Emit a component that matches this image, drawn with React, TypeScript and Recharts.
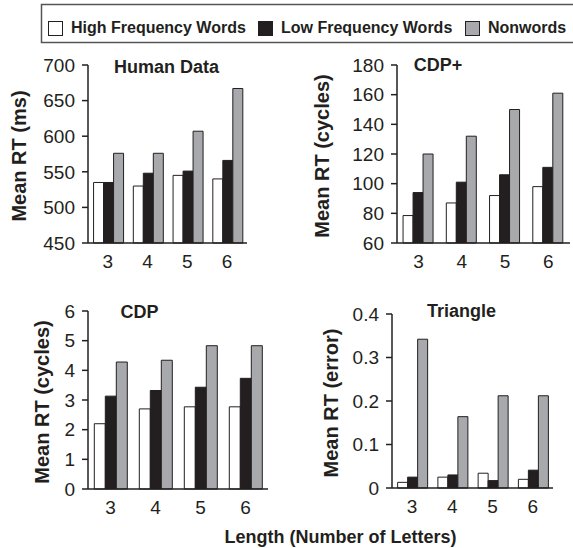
import { BarChart, Bar, XAxis, YAxis, Label } from 'recharts';

const INK = '#231f20';
const GRAY = '#a7a9ac';
const FONT = '"Liberation Sans", Arial, sans-serif';

// word length categories
const lengths = ['3', '4', '5', '6'];

// Human Data (ms)
const humanHF = [535, 530, 545, 540];
const humanLF = [535, 548, 551, 566];
const humanNW = [576, 576, 607, 667];

// CDP+ (cycles)
const cdpPlusHF = [78.5, 87, 92, 98];
const cdpPlusLF = [94, 101, 106, 111];
const cdpPlusNW = [120, 132, 150, 161];

// CDP (cycles)
const cdpHF = [2.2, 2.7, 2.77, 2.77];
const cdpLF = [3.13, 3.32, 3.43, 3.73];
const cdpNW = [4.28, 4.34, 4.83, 4.83];

// Triangle (error)
const triHF = [0.013, 0.025, 0.034, 0.02];
const triLF = [0.025, 0.03, 0.017, 0.041];
const triNW = [0.342, 0.164, 0.212, 0.212];

const series = [
  { key: 'hf', name: 'High Frequency Words', fill: '#ffffff' },
  { key: 'lf', name: 'Low Frequency Words', fill: INK },
  { key: 'nw', name: 'Nonwords', fill: GRAY },
];

const build = (hf: number[], lf: number[], nw: number[]) =>
  lengths.map((length, i) => ({ length, hf: hf[i], lf: lf[i], nw: nw[i] }));

type Plot = { x0: number; x1: number; y0: number; y1: number };

const yLabelContent = (text: string, off: number) => (props: any) => {
  const vb = props.viewBox;
  const cx = vb.x + vb.width - off;
  const cy = vb.y + vb.height / 2 + 2;
  return (
    <text
      x={cx}
      y={cy}
      transform={`rotate(-90 ${cx} ${cy})`}
      textAnchor="middle"
      dominantBaseline="central"
      fontSize={20}
      fontWeight="bold"
      fill={INK}
      fontFamily={FONT}
    >
      {text}
    </text>
  );
};

function Panel({
  data,
  plot,
  domain,
  ticks,
  yLabel,
  labelOffset,
}: {
  data: any[];
  plot: Plot;
  domain: [number, number];
  ticks: number[];
  yLabel: string;
  labelOffset: number;
}) {
  const YW = 88;
  const left = plot.x0 - YW;
  const top = plot.y0 - 20;
  const width = plot.x1 - left + 4;
  const height = plot.y1 - top + 40;
  return (
    <div style={{ position: 'absolute', left, top }}>
      <BarChart
        width={width}
        height={height}
        data={data}
        margin={{ top: 20, right: 4, left: 0, bottom: 0 }}
        barGap={0}
        barCategoryGap="14%"
        style={{ fontFamily: FONT }}
      >
        <XAxis
          dataKey="length"
          height={40}
          tickLine={false}
          tickSize={0}
          tickMargin={12}
          axisLine={{ stroke: INK, strokeWidth: 1.5 }}
          tick={{ fill: INK, fontSize: 19 }}
        />
        <YAxis
          width={YW}
          domain={domain}
          ticks={ticks}
          interval={0}
          tickSize={6}
          tickMargin={7}
          axisLine={{ stroke: INK, strokeWidth: 1.5 }}
          tickLine={{ stroke: INK, strokeWidth: 1.5 }}
          tick={{ fill: INK, fontSize: 19 }}
        >
          <Label content={yLabelContent(yLabel, labelOffset)} />
        </YAxis>
        {series.map((s) => (
          <Bar
            key={s.key}
            dataKey={s.key}
            name={s.name}
            fill={s.fill}
            stroke={INK}
            strokeWidth={1}
            isAnimationActive={false}
          />
        ))}
      </BarChart>
    </div>
  );
}

export default function App() {
  const legendSwatchX = [48, 258, 465];
  const legendTextX = [71, 281, 488];
  return (
    <div
      style={{
        position: 'absolute',
        left: 0,
        top: 0,
        width: 573,
        height: 548,
        background: '#fff',
        overflow: 'hidden',
        fontFamily: FONT,
      }}
    >
      <Panel
        data={build(humanHF, humanLF, humanNW)}
        plot={{ x0: 88, x1: 247, y0: 65, y1: 243 }}
        domain={[450, 700]}
        ticks={[450, 500, 550, 600, 650, 700]}
        yLabel="Mean RT (ms)"
        labelOffset={69}
      />
      <Panel
        data={build(cdpPlusHF, cdpPlusLF, cdpPlusNW)}
        plot={{ x0: 397, x1: 570, y0: 65, y1: 243 }}
        domain={[60, 180]}
        ticks={[60, 80, 100, 120, 140, 160, 180]}
        yLabel="Mean RT (cycles)"
        labelOffset={75}
      />
      <Panel
        data={build(cdpHF, cdpLF, cdpNW)}
        plot={{ x0: 88, x1: 268, y0: 311, y1: 489 }}
        domain={[0, 6]}
        ticks={[0, 1, 2, 3, 4, 5, 6]}
        yLabel="Mean RT (cycles)"
        labelOffset={46}
      />
      <Panel
        data={build(triHF, triLF, triNW)}
        plot={{ x0: 392, x1: 553, y0: 314, y1: 488 }}
        domain={[0, 0.4]}
        ticks={[0, 0.1, 0.2, 0.3, 0.4]}
        yLabel="Mean RT (error)"
        labelOffset={61}
      />
      <svg
        width={573}
        height={548}
        style={{ position: 'absolute', left: 0, top: 0, pointerEvents: 'none' }}
        fontFamily={FONT}
      >
        <rect x={41.5} y={4.5} width={560} height={38} fill="none" stroke="#555" strokeWidth={1.5} />
        {series.map((s, i) => (
          <g key={s.key}>
            <rect x={legendSwatchX[i] + 0.5} y={21.5} width={14} height={14} fill={s.fill} stroke={INK} strokeWidth={1} />
            <text x={legendTextX[i]} y={33} fontSize={16} fontWeight="bold" fill={INK}>
              {s.name}
            </text>
          </g>
        ))}
        <g fontSize={18} fontWeight="bold" fill={INK} textAnchor="middle">
          <text x={166.5} y={73}>Human Data</text>
          <text x={438} y={71}>CDP+</text>
          <text x={139.5} y={318}>CDP</text>
          <text x={461.5} y={317}>Triangle</text>
          <text x={340.5} y={543}>Length (Number of Letters)</text>
        </g>
      </svg>
    </div>
  );
}
